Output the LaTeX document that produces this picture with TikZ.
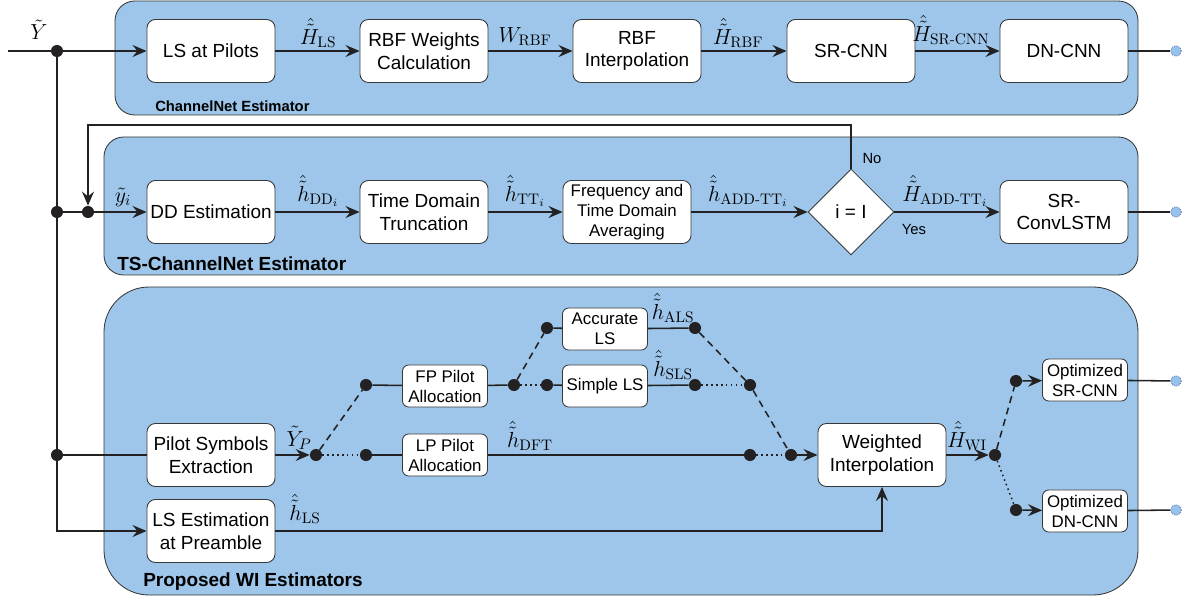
\documentclass[tikz,border=0pt]{standalone}
\usepackage{fix-cm}
\usepackage{amsmath}
\usepackage{fontspec}
\setsansfont{Liberation Sans}
\usetikzlibrary{arrows.meta,shapes.geometric,positioning}

\definecolor{panelblue}{RGB}{157,198,234}
\definecolor{outblue}{RGB}{150,195,235}
\definecolor{linegray}{RGB}{35,33,34}
\definecolor{boxgray}{RGB}{55,55,55}

\tikzset{
  panel/.style={fill=panelblue, draw=boxgray, line width=0.6pt},
  ptitle/.style={anchor=west, inner sep=0pt, font=\sffamily\bfseries\fontsize{13.5}{15}\selectfont},
  blk/.style={draw=boxgray, fill=white, rounded corners=6pt, line width=0.6pt,
    minimum width=3.2cm, minimum height=1.575cm, align=center, inner sep=1pt,
    font=\sffamily\fontsize{13.5}{16}\selectfont},
  sblk/.style={blk, minimum width=2.125cm, minimum height=1.05cm, rounded corners=4.5pt,
    font=\sffamily\fontsize{12}{14.2}\selectfont},
  dec/.style={diamond, aspect=1, draw=boxgray, fill=white, line width=0.6pt,
    minimum width=2.15cm, minimum height=2.15cm, inner sep=1pt,
    font=\sffamily\fontsize{13.5}{16}\selectfont},
  jdot/.style={circle, fill=linegray, inner sep=0pt, minimum size=8.6pt},
  outc/.style={circle, fill=outblue, draw=blue!30!gray, densely dotted, line width=0.6pt,
    inner sep=0pt, minimum size=7.5pt},
  wire/.style={draw=linegray, line width=1.1pt},
  conn/.style={wire, -{Stealth[length=10pt,width=8.5pt,inset=3.5pt]}},
  dashw/.style={wire, dash pattern=on 5pt off 3.5pt},
  dotw/.style={wire, dash pattern=on 1.1pt off 2.4pt},
  lab/.style={inner sep=0pt, font=\fontsize{15.5}{17}\selectfont},
  note/.style={inner sep=0pt, font=\sffamily\fontsize{10.5}{12}\selectfont}
}
\newcommand{\hy}{\textrm{-}}

\begin{document}
\begin{tikzpicture}[x=0.025cm, y=-0.025cm]
\useasboundingbox (0,0) rectangle (1192,603);

% panels
\draw[panel, rounded corners=14pt] (115,1) rectangle (1138,115);
\draw[panel, rounded corners=14pt] (104,137) rectangle (1138,275);
\draw[panel, rounded corners=32pt] (104,287) rectangle (1138,595);
\node[ptitle, font=\sffamily\bfseries\fontsize{10.5}{12}\selectfont] (t1) at (155,106) {ChannelNet Estimator};
\node[ptitle] (t2) at (117,264) {TS-ChannelNet Estimator};
\node[ptitle] (t3) at (143,582) {Proposed WI Estimators};

% ChannelNet
\coordinate (yin) at (8,51);
\node[jdot] (j1) at (57,51) {};
\node[lab] (lY) at (39,30) {$\tilde{Y}$};
\node[blk] (ls) at (211,51) {LS at Pilots};
\node[blk] (rbfw) at (424,51) {RBF Weights\\Calculation};
\node[blk] (rbfi) at (637,51) {RBF\\Interpolation};
\node[blk] (srcnn) at (851,51) {SR-CNN};
\node[blk] (dncnn) at (1064,51) {DN-CNN};
\node[outc] (o1) at (1176,51) {};

\draw[wire] (yin) -- (j1);
\draw[conn] (j1) -- (ls);
\draw[conn] (ls) -- (rbfw);
\draw[conn] (rbfw) -- (rbfi);
\draw[conn] (rbfi) -- (srcnn);
\draw[conn] (srcnn) -- (dncnn);
\draw[wire] (dncnn) -- (o1);
\node[lab] (lHls) at (318,33) {$\hat{\tilde{H}}_{\mathrm{LS}}$};
\node[lab] (lW) at (525,37) {$W_{\mathrm{RBF}}$};
\node[lab] (lHrbf) at (738,33) {$\hat{\tilde{H}}_{\mathrm{RBF}}$};
\node[lab] (lHsr) at (951,30) {$\hat{\tilde{H}}_{\mathrm{SR}\hy\mathrm{CNN}}$};

% TS-ChannelNet
\node[jdot] (j2) at (57,212) {};
\node[jdot] (fb) at (88,212) {};
\node[blk] (dd) at (211,212) {DD Estimation};
\node[blk] (tdt) at (424,212) {Time Domain\\Truncation};
\node[blk, font=\sffamily\fontsize{12}{14.2}\selectfont] (fta) at (627,212) {Frequency and\\Time Domain\\Averaging};
\node[dec] (dec) at (851,212) {i = I};
\node[blk] (srconv) at (1064,212) {SR-\\ConvLSTM};
\node[outc] (o2) at (1176,212) {};
\coordinate (fbtop) at (88,125);

\draw[wire] (j2) -- (fb);
\draw[conn] (fb) -- (dd);
\draw[conn] (dd) -- (tdt);
\draw[conn] (tdt) -- (fta);
\draw[conn] (fta) -- (dec);
\draw[conn] (dec) -- (srconv);
\draw[wire] (srconv) -- (o2);
\draw[conn] (dec.north) |- (fbtop) -- (fb);
\node[lab] (ly) at (123,197) {$\tilde{y}_i$};
\node[lab] (lhdd) at (318,191) {$\hat{\tilde{h}}_{\mathrm{DD}_i}$};
\node[lab] (lhtt) at (525,191) {$\hat{\tilde{h}}_{\mathrm{TT}_i}$};
\node[lab] (lhadd) at (748,191) {$\hat{\tilde{h}}_{\mathrm{ADD}\hy\mathrm{TT}_i}$};
\node[lab] (lHadd) at (945,191) {$\hat{\tilde{H}}_{\mathrm{ADD}\hy\mathrm{TT}_i}$};
\node[note] (lno) at (872,158) {No};
\node[note] (lyes) at (914,229) {Yes};

% Proposed WI
\node[jdot] (j3) at (57,455) {};
\node[blk] (pse) at (211,455) {Pilot Symbols\\Extraction};
\node[blk] (lspre) at (211,531) {LS Estimation\\at Preamble};
\draw[wire] (j1) -- (j2) -- (j3);
\draw[wire] (j3) -- (pse);
\draw[conn] (j3) |- (lspre);

\node[jdot] (dYp) at (316,455) {};
\node[jdot] (dFa) at (366,385) {};
\node[jdot] (dLa) at (366,455) {};
\node[sblk] (fp) at (445,386) {FP Pilot\\Allocation};
\node[sblk] (lp) at (445,455) {LP Pilot\\Allocation};
\node[jdot] (dFb) at (514,385) {};
\node[jdot] (dA) at (547,328) {};
\node[jdot] (dS) at (547,385) {};
\node[sblk] (als) at (605,329) {Accurate\\LS};
\node[sblk] (sls) at (605,386) {Simple LS};
\node[jdot] (dAo) at (695,328) {};
\node[jdot] (dSo) at (695,385) {};
\node[jdot] (dSm) at (750,385) {};
\node[jdot] (dLo) at (750,455) {};
\node[jdot] (dW) at (791,455) {};
\node[blk] (wi) at (882,455) {Weighted\\Interpolation};
\node[jdot] (dWo) at (995,455) {};
\node[jdot] (dO1) at (1016,381) {};
\node[jdot] (dO2) at (1016,510) {};
\node[sblk] (osr) at (1085,380) {Optimized\\SR-CNN};
\node[sblk] (odn) at (1085,511) {Optimized\\DN-CNN};
\node[outc] (o3) at (1176,381) {};
\node[outc] (o4) at (1176,510) {};

\draw[conn] (pse) -- (dYp);
\draw[dashw] (dYp) -- (dFa);
\draw[dotw] (dYp) -- (dLa);
\draw[wire] (dFa) -- (fp);
\draw[wire] (fp) -- (dFb);
\draw[dashw] (dFb) -- (dA);
\draw[dotw] (dFb) -- (dS);
\draw[wire] (dA) -- (als);
\draw[wire] (dS) -- (sls);
\draw[wire] (als) -- (dAo);
\draw[wire] (sls) -- (dSo);
\draw[dashw] (dAo) -- (dSm);
\draw[dotw] (dSo) -- (dSm);
\draw[dashw] (dSm) -- (dW);
\draw[wire] (dLa) -- (lp);
\draw[wire] (lp) -- (dLo);
\draw[dotw] (dLo) -- (dW);
\draw[conn] (dW) -- (wi);
\draw[conn] (lspre) -| (wi);
\draw[conn] (wi) -- (dWo);
\draw[dashw] (dWo) -- (dO1);
\draw[dotw] (dWo) -- (dO2);
\draw[conn] (dO1) -- (osr);
\draw[conn] (dO2) -- (odn);
\draw[wire] (osr) -- (o3);
\draw[wire] (odn) -- (o4);

\node[lab] (lYp) at (299,438) {$\tilde{Y}_P$};
\node[lab] (lhdft) at (530,436) {$\hat{\tilde{h}}_{\mathrm{DFT}}$};
\node[lab] (lhals) at (673,308) {$\hat{\tilde{h}}_{\mathrm{ALS}}$};
\node[lab] (lhsls) at (673,365) {$\hat{\tilde{h}}_{\mathrm{SLS}}$};
\node[lab] (lhls) at (305,509) {$\hat{\tilde{h}}_{\mathrm{LS}}$};
\node[lab] (lHwi) at (967,436) {$\hat{\tilde{H}}_{\mathrm{WI}}$};
\end{tikzpicture}
\end{document}
